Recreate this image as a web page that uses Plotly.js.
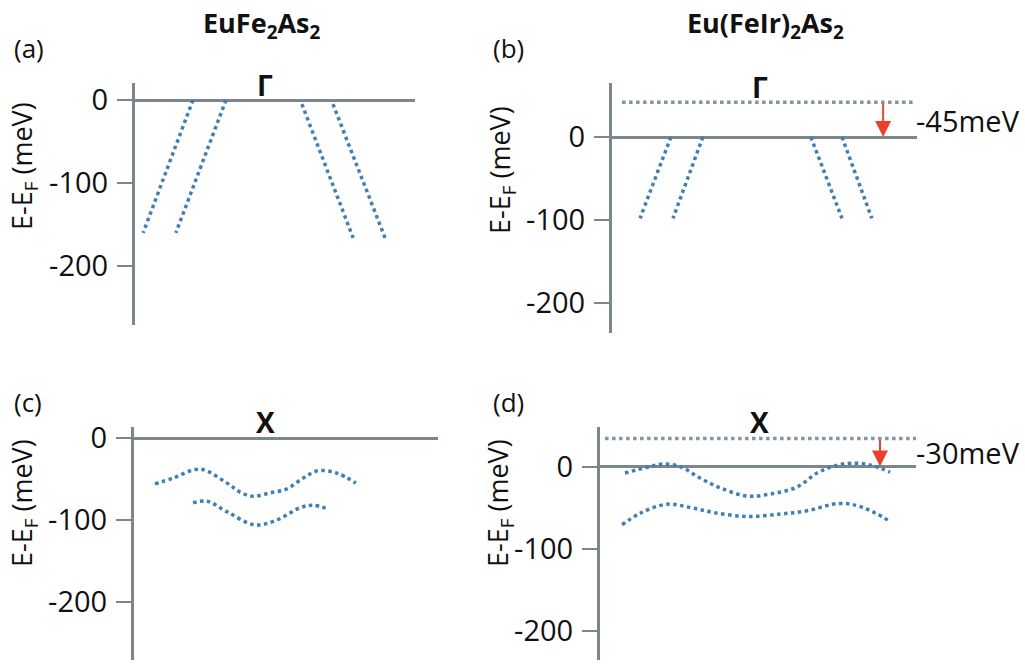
<!DOCTYPE html>
<html>
<head>
<meta charset="utf-8">
<script src="https://cdn.plot.ly/plotly-3.0.1.min.js"></script>
<style>html,body{margin:0;padding:0;background:#fff;}#chart{width:1025px;height:664px;}</style>
</head>
<body>
<div id="chart"></div>
<script>
// ---- Data (x: arbitrary momentum units 0-100 along each panel, y: E-EF in meV) ----
// Panel (a) EuFe2As2, Gamma point
const aL1x = [20.7, 2.9],  aL1y = [0, -160];
const aL2x = [32.5, 14.6], aL2y = [0, -160];
const aR1x = [59.6, 77.9], aR1y = [-5, -166];
const aR2x = [70.7, 89.3], aR2y = [-5, -166];
// Panel (b) Eu(FeIr)2As2, Gamma point
const bL1x = [19.3, 9.2],  bL1y = [0, -98];
const bL2x = [29.8, 20.0], bL2y = [0, -98];
const bR1x = [65.2, 75.4], bR1y = [0, -98];
const bR2x = [75.4, 85.2], bR2y = [0, -98];
const bShiftX = [3.3, 99.3], bShiftY = [42, 42];
const bArrowX = 88.9;
// Panel (c) EuFe2As2, X point
const cUx = [6.9, 12.8, 21.7, 30.6, 34.9, 39.1, 44.7, 50.3, 55.6, 60.5, 66.8, 73.0];
const cUy = [-56, -49, -38, -55, -66, -71, -67, -62, -49, -40, -43, -55];
const cLx = [19.4, 24.0, 30.6, 39.8, 47.0, 54.6, 58.9, 64.1];
const cLy = [-79, -77, -90, -106, -100, -85, -82, -87];
// Panel (d) Eu(FeIr)2As2, X point
const dUx = [7.9, 15.8, 19.9, 25.3, 31.6, 38.0, 46.5, 54.7, 62.3, 68.7, 73.7, 79.1, 85.4, 91.8];
const dUy = [-8, 0, 3, 0, -14, -26, -36, -33, -25, -8, 0, 4, 2, -7];
const dLx = [7.0, 12.7, 21.2, 28.5, 35.8, 46.5, 57.0, 65.5, 75.9, 83.2, 91.8];
const dLy = [-71, -57, -46, -50, -56, -61, -58, -54, -45, -50, -67];
const dShiftX = [1.6, 100], dShiftY = [34, 34];
const dArrowX = 88.6;
// Labels
const yTickVals = [0, -100, -200];
const yTickText = ['0', '-100', '-200'];
const colTitles = ['EuFe<sub>2</sub>As<sub>2</sub>', 'Eu(FeIr)<sub>2</sub>As<sub>2</sub>'];
const panelLetters = ['(a)', '(b)', '(c)', '(d)'];
const pointLabels = ['Γ', 'Γ', 'X', 'X'];
const shiftLabels = ['-45meV', '-30meV'];
const yTitle = 'E-E<sub>F</sub> (meV)';

// ---- Styles ----
const W = 1025, H = 664;
const FONT = 'Open Sans, Lato, sans-serif';
const BLUE = '#3f7fb6';
const GREY = '#7b878d';
const DASHGREY = '#7f96aa';
const RED = '#e8412c';
const px = v => v / W;
const py = v => 1 - v / H;

function band(x, y, xa, ya, smooth) {
  return {x: x, y: y, xaxis: xa, yaxis: ya, mode: 'lines', type: 'scatter',
    hoverinfo: 'skip', showlegend: false,
    line: {color: BLUE, width: 3.5, dash: '3.5px,3.5px', shape: smooth ? 'spline' : 'linear', smoothing: 1}};
}
function shiftLine(x, y, xa, ya) {
  return {x: x, y: y, xaxis: xa, yaxis: ya, mode: 'lines', type: 'scatter',
    hoverinfo: 'skip', showlegend: false,
    line: {color: DASHGREY, width: 3.5, dash: '3.5px,3.5px'}};
}

const traces = [
  band(aL1x, aL1y, 'x', 'y'), band(aL2x, aL2y, 'x', 'y'),
  band(aR1x, aR1y, 'x', 'y'), band(aR2x, aR2y, 'x', 'y'),
  shiftLine(bShiftX, bShiftY, 'x2', 'y2'),
  band(bL1x, bL1y, 'x2', 'y2'), band(bL2x, bL2y, 'x2', 'y2'),
  band(bR1x, bR1y, 'x2', 'y2'), band(bR2x, bR2y, 'x2', 'y2'),
  band(cUx, cUy, 'x3', 'y3', true), band(cLx, cLy, 'x3', 'y3', true),
  shiftLine(dShiftX, dShiftY, 'x4', 'y4'),
  band(dUx, dUy, 'x4', 'y4', true), band(dLx, dLy, 'x4', 'y4', true)
];

function xax(l, r) {
  return {domain: [px(l), px(r)], range: [0, 100], visible: false, fixedrange: true};
}
function yax(anchor, top, bottom, zeroPix, scale) {
  return {
    anchor: anchor,
    domain: [py(bottom), py(top)],
    range: [-(bottom - zeroPix) / scale, (zeroPix - top) / scale],
    showline: true, linecolor: GREY, linewidth: 3,
    zeroline: true, zerolinecolor: GREY, zerolinewidth: 3,
    showgrid: false,
    ticks: 'outside', ticklen: 15, tickwidth: 2, tickcolor: GREY,
    tickvals: yTickVals, ticktext: yTickText,
    ticklabelstandoff: 3,
    tickfont: {family: FONT, size: 29, color: '#111'},
    fixedrange: true
  };
}

const ann = [];
function txt(text, x, y, size, opts) {
  ann.push(Object.assign({text: text, x: px(x), y: py(y), xref: 'paper', yref: 'paper',
    showarrow: false, xanchor: 'center', yanchor: 'middle',
    font: {family: FONT, size: size, color: '#111'}}, opts || {}));
}
const bold = s => ({family: FONT, size: s, color: '#111', weight: 'bold'});
// column titles
txt(colTitles[0], 262, 24, 27, {font: bold(27)});
txt(colTitles[1], 765, 24, 27, {font: bold(27)});
// panel letters
txt(panelLetters[0], 29, 48, 26);
txt(panelLetters[1], 508, 48, 26);
txt(panelLetters[2], 28, 402, 26);
txt(panelLetters[3], 508, 402, 26);
// y titles
txt(yTitle, 23, 166, 27, {textangle: -90});
txt(yTitle, 501, 170, 27, {textangle: -90});
txt(yTitle, 23, 503, 27, {textangle: -90});
txt(yTitle, 499, 503, 27, {textangle: -90});
// point labels
txt(pointLabels[0], 265, 85, 28, {font: bold(28)});
txt(pointLabels[1], 760, 87, 28, {font: bold(28)});
txt(pointLabels[2], 265, 422, 28, {font: bold(28)});
txt(pointLabels[3], 759, 422, 28, {font: bold(28)});
// shift labels
txt(shiftLabels[0], 968, 120, 29);
txt(shiftLabels[1], 968, 452, 29);
// red arrows
ann.push({x: bArrowX, y: 0, ax: bArrowX, ay: bShiftY[0], xref: 'x2', yref: 'y2', axref: 'x2', ayref: 'y2',
  text: '', showarrow: true, arrowhead: 2, arrowsize: 1.6, arrowwidth: 2, arrowcolor: RED});
ann.push({x: dArrowX, y: 0, ax: dArrowX, ay: dShiftY[0], xref: 'x4', yref: 'y4', axref: 'x4', ayref: 'y4',
  text: '', showarrow: true, arrowhead: 2, arrowsize: 1.6, arrowwidth: 2, arrowcolor: RED});

const layout = {
  width: W, height: H,
  margin: {l: 0, r: 0, t: 0, b: 0},
  paper_bgcolor: '#fff', plot_bgcolor: 'rgba(0,0,0,0)',
  showlegend: false,
  xaxis: xax(135, 415), yaxis: yax('x', 83, 325, 100, 0.83),
  xaxis2: xax(612, 917), yaxis2: yax('x2', 83, 333, 137, 0.83),
  xaxis3: xax(134, 438), yaxis3: yax('x3', 427, 660, 438, 0.82),
  xaxis4: xax(600, 916), yaxis4: yax('x4', 427, 660, 466.5, 0.82),
  annotations: ann
};

Plotly.newPlot('chart', traces, layout, {displayModeBar: false});
</script>
</body>
</html>
